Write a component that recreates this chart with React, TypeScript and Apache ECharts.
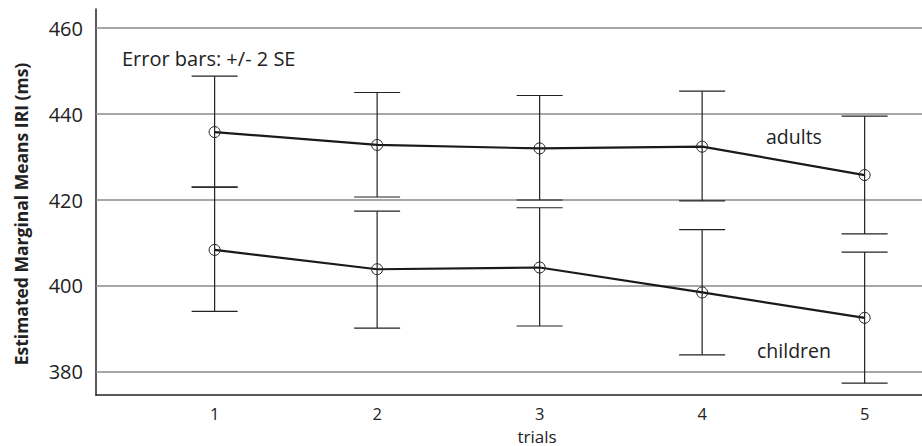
import React, { useEffect, useRef } from "react";
import * as echarts from "echarts";

const trials = [1, 2, 3, 4, 5];
const adultsMean = [435.8, 432.8, 432.0, 432.4, 425.8];
const adultsLow = [423.0, 420.7, 420.0, 419.8, 412.1];
const adultsHigh = [448.8, 445.0, 444.3, 445.3, 439.5];
const childrenMean = [408.4, 403.9, 404.3, 398.5, 392.6];
const childrenLow = [394.1, 390.2, 390.7, 384.0, 377.4];
const childrenHigh = [423.0, 417.4, 418.2, 413.1, 407.9];
const yTicks = [380, 400, 420, 440, 460];

const FONT = "'Open Sans', 'Noto Sans', sans-serif";

export default function App() {
  const ref = useRef<HTMLDivElement>(null);
  useEffect(() => {
    if (!ref.current) return;
    const chart = echarts.init(ref.current, undefined, { renderer: "svg" });
    const errData = [
      ...trials.map((t, i) => [t, adultsLow[i], adultsHigh[i]]),
      ...trials.map((t, i) => [t, childrenLow[i], childrenHigh[i]]),
    ];
    const capHalf = 23;
    chart.setOption({
      animation: false,
      grid: { left: 96, right: 0, top: 9, bottom: 51 },
      xAxis: {
        type: "value",
        min: 0.27,
        max: 5.353,
        axisLine: { show: true, lineStyle: { color: "#222", width: 1.5 } },
        axisTick: { show: false },
        splitLine: { show: false },
        axisLabel: {
          customValues: trials,
          fontSize: 16.5,
          lineHeight: 16,
          color: "#222",
          fontFamily: FONT,
          margin: 10,
        },
      },
      yAxis: {
        type: "value",
        min: 374.65,
        max: 464.42,
        axisLine: { show: true, lineStyle: { color: "#222", width: 1.5 } },
        axisTick: { show: false },
        splitLine: { show: false },
        axisLabel: {
          customValues: yTicks,
          fontSize: 20,
          color: "#222",
          fontFamily: FONT,
          margin: 13,
        },
      },
      graphic: [
        {
          type: "text",
          x: 21,
          y: 214,
          rotation: Math.PI / 2,
          style: {
            text: "Estimated Marginal Means IRI (ms)",
            fontSize: 17.5,
            fontWeight: "bold",
            fontFamily: FONT,
            fill: "#222",
            align: "center",
            verticalAlign: "middle",
          },
        },
        {
          type: "text",
          x: 537,
          y: 436,
          style: {
            text: "trials",
            fontSize: 17,
            lineHeight: 16,
            fontFamily: FONT,
            fill: "#222",
            align: "center",
            verticalAlign: "middle",
          },
        },
        {
          type: "text",
          x: 122,
          y: 58,
          style: {
            text: "Error bars: +/- 2 SE",
            fontSize: 20,
            fontFamily: FONT,
            fill: "#222",
            align: "left",
            verticalAlign: "middle",
          },
        },
        {
          type: "text",
          x: 766,
          y: 136,
          style: {
            text: "adults",
            fontSize: 19.5,
            fontFamily: FONT,
            fill: "#222",
            align: "left",
            verticalAlign: "middle",
          },
        },
        {
          type: "text",
          x: 757,
          y: 350,
          style: {
            text: "children",
            fontSize: 19.5,
            fontFamily: FONT,
            fill: "#222",
            align: "left",
            verticalAlign: "middle",
          },
        },
      ],
      series: [
        {
          type: "custom",
          name: "gridlines",
          z: 1,
          silent: true,
          data: yTicks.map((v) => [1, v]),
          renderItem: (params: any, api: any) => {
            const cs = params.coordSys;
            const p = api.coord([1, api.value(1)]);
            return {
              type: "line",
              shape: { x1: cs.x, y1: p[1], x2: cs.x + cs.width, y2: p[1] },
              style: { stroke: "#8a8a8a", lineWidth: 1.5 },
            };
          },
        },
        {
          type: "custom",
          name: "errorbars",
          z: 2,
          silent: true,
          data: errData,
          renderItem: (params: any, api: any) => {
            const x = api.value(0);
            const lo = api.coord([x, api.value(1)]);
            const hi = api.coord([x, api.value(2)]);
            const st = { stroke: "#222", lineWidth: 1.2 };
            return {
              type: "group",
              children: [
                { type: "line", shape: { x1: lo[0], y1: lo[1], x2: hi[0], y2: hi[1] }, style: st },
                { type: "line", shape: { x1: lo[0] - capHalf, y1: lo[1], x2: lo[0] + capHalf, y2: lo[1] }, style: st },
                { type: "line", shape: { x1: hi[0] - capHalf, y1: hi[1], x2: hi[0] + capHalf, y2: hi[1] }, style: st },
              ],
            };
          },
        },
        {
          type: "line",
          name: "adults",
          z: 3,
          data: trials.map((t, i) => [t, adultsMean[i]]),
          symbol: "circle",
          symbolSize: 11,
          lineStyle: { color: "#1a1a1a", width: 2.2 },
          itemStyle: { color: "rgba(0,0,0,0)", borderColor: "#222", borderWidth: 1 },
        },
        {
          type: "line",
          name: "children",
          z: 3,
          data: trials.map((t, i) => [t, childrenMean[i]]),
          symbol: "circle",
          symbolSize: 11,
          lineStyle: { color: "#1a1a1a", width: 2.2 },
          itemStyle: { color: "rgba(0,0,0,0)", borderColor: "#222", borderWidth: 1 },
        },
      ],
    });
    return () => chart.dispose();
  }, []);
  return (
    <div
      ref={ref}
      style={{ position: "fixed", left: 0, top: 0, width: 922, height: 446, background: "#fff" }}
    />
  );
}
